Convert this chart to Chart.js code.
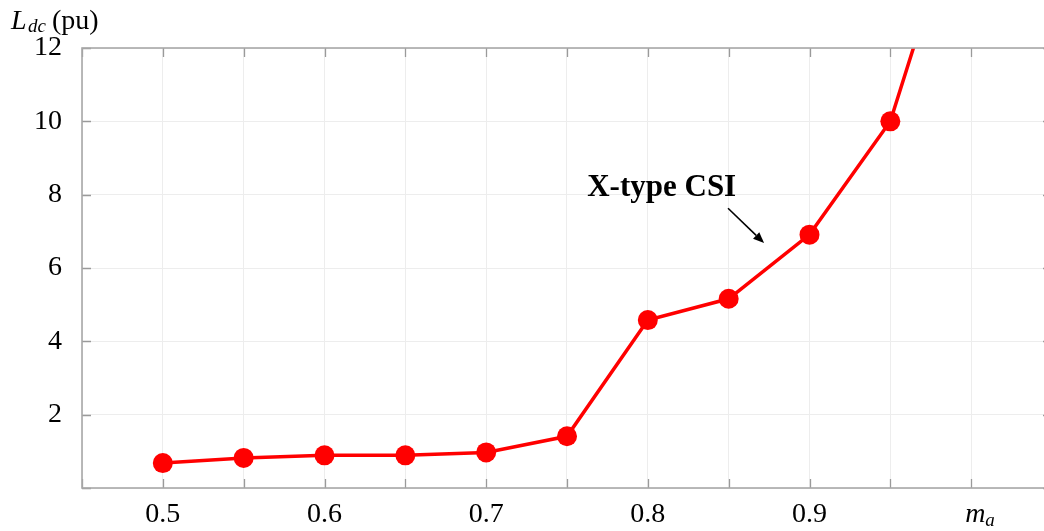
<!DOCTYPE html>
<html>
<head>
<meta charset="utf-8">
<script src="https://cdn.jsdelivr.net/npm/chart.js@4/dist/chart.umd.min.js"></script>
<style>
  html, body { margin: 0; padding: 0; overflow: hidden; background: #fff; }
  canvas { display: block; }
</style>
</head>
<body>
<canvas id="chart" width="1062" height="531"></canvas>
<script>
// Modulation index m_a and required DC-link inductance L_dc (pu)
const modulationIndex = [0.5, 0.55, 0.6, 0.65, 0.7, 0.75, 0.8, 0.85, 0.9, 0.95, 1.0];
const dcInductance    = [0.68, 0.82, 0.89, 0.89, 0.97, 1.41, 4.58, 5.16, 6.91, 10.0, 17.0];

// Labelled ticks
const xTickLabels = [0.5, 0.6, 0.7, 0.8, 0.9];
const yTickLabels = [2, 4, 6, 8, 10, 12];

const seriesName = 'X-type CSI';

const SERIF = "'Liberation Serif', 'Times New Roman', serif";

const near = (a, b) => Math.abs(a - b) < 1e-6;

// Box frame, inward tick marks, axis titles and the series callout
const framePlugin = {
  id: 'frame',
  afterDraw(chart) {
    const { ctx, chartArea: a, scales: { x, y } } = chart;
    ctx.save();

    // inward tick marks on all four sides
    ctx.strokeStyle = '#9a9a9a';
    ctx.lineWidth = 1.3;
    const len = 9;
    ctx.beginPath();
    x.ticks.forEach(t => {
      const px = Math.round(x.getPixelForValue(t.value)) + 0.5;
      ctx.moveTo(px, a.bottom); ctx.lineTo(px, a.bottom - len);
      ctx.moveTo(px, a.top);    ctx.lineTo(px, a.top + len);
    });
    y.ticks.forEach(t => {
      const py = Math.round(y.getPixelForValue(t.value)) + 0.5;
      ctx.moveTo(a.left, py);  ctx.lineTo(a.left + len, py);
      ctx.moveTo(a.right, py); ctx.lineTo(a.right - len, py);
    });
    ctx.stroke();

    // plot box
    ctx.strokeStyle = '#a8a8a8';
    ctx.lineWidth = 1.6;
    ctx.strokeRect(a.left, a.top, a.right - a.left, a.bottom - a.top);

    ctx.fillStyle = '#000';
    ctx.textBaseline = 'alphabetic';
    ctx.textAlign = 'left';

    // y-axis title: L_dc (pu)
    ctx.font = `italic 28px ${SERIF}`;
    ctx.fillText('L', 11, 29);
    ctx.font = `italic 19px ${SERIF}`;
    ctx.fillText('dc', 28, 32);
    ctx.font = `28px ${SERIF}`;
    ctx.fillText('(pu)', 52, 29);

    // x-axis title: m_a, placed at the 1.0 tick
    const mx = x.getPixelForValue(1.0);
    ctx.font = `italic 28px ${SERIF}`;
    ctx.fillText('m', mx - 6, 522);
    ctx.font = `italic 19px ${SERIF}`;
    ctx.fillText('a', mx + 14, 526);

    // series callout with arrow
    ctx.font = `bold 31px ${SERIF}`;
    ctx.fillText(seriesName, x.getPixelForValue(0.7625), y.getPixelForValue(7.96));

    const x0 = x.getPixelForValue(0.8496), y0 = y.getPixelForValue(7.63);
    const x1 = x.getPixelForValue(0.8719), y1 = y.getPixelForValue(6.68);
    const ang = Math.atan2(y1 - y0, x1 - x0);
    const head = 11, half = 4.5;
    ctx.strokeStyle = '#000';
    ctx.lineWidth = 1.6;
    ctx.beginPath();
    ctx.moveTo(x0, y0);
    ctx.lineTo(x1 - head * Math.cos(ang), y1 - head * Math.sin(ang));
    ctx.stroke();
    ctx.beginPath();
    ctx.moveTo(x1, y1);
    ctx.lineTo(x1 - head * Math.cos(ang) + half * Math.sin(ang), y1 - head * Math.sin(ang) - half * Math.cos(ang));
    ctx.lineTo(x1 - head * Math.cos(ang) - half * Math.sin(ang), y1 - head * Math.sin(ang) + half * Math.cos(ang));
    ctx.closePath();
    ctx.fill();

    ctx.restore();
  }
};

new Chart(document.getElementById('chart'), {
  type: 'line',
  data: {
    datasets: [{
      label: seriesName,
      data: modulationIndex.map((m, i) => ({ x: m, y: dcInductance[i] })),
      borderColor: '#ff0000',
      backgroundColor: '#ff0000',
      borderWidth: 3.5,
      pointRadius: 10,
      pointHoverRadius: 10,
      pointBorderWidth: 0,
      tension: 0
    }]
  },
  options: {
    responsive: false,
    devicePixelRatio: 1,
    animation: false,
    layout: { padding: { left: 0, top: 48, right: 10, bottom: 0 } },
    plugins: {
      legend: { display: false },
      tooltip: { enabled: false }
    },
    scales: {
      x: {
        type: 'linear',
        min: 0.45,
        max: 1.05,
        afterFit: s => { s.height = 43; },
        border: { display: false },
        grid: { color: '#ededed', lineWidth: 1, drawTicks: false },
        ticks: {
          stepSize: 0.05,
          padding: 10,
          color: '#000',
          font: { family: SERIF, size: 28 },
          maxRotation: 0,
          autoSkip: false,
          callback: v => {
            const hit = xTickLabels.find(t => near(t, v));
            return hit === undefined ? '' : hit.toFixed(1);
          }
        }
      },
      y: {
        min: 0,
        max: 12,
        afterFit: s => { s.width = 82; },
        border: { display: false },
        grid: { color: '#ededed', lineWidth: 1, drawTicks: false },
        ticks: {
          stepSize: 2,
          padding: 20,
          color: '#000',
          font: { family: SERIF, size: 28 },
          callback: v => {
            const hit = yTickLabels.find(t => near(t, v));
            return hit === undefined ? '' : String(hit);
          }
        }
      }
    }
  },
  plugins: [framePlugin]
});
</script>
</body>
</html>
